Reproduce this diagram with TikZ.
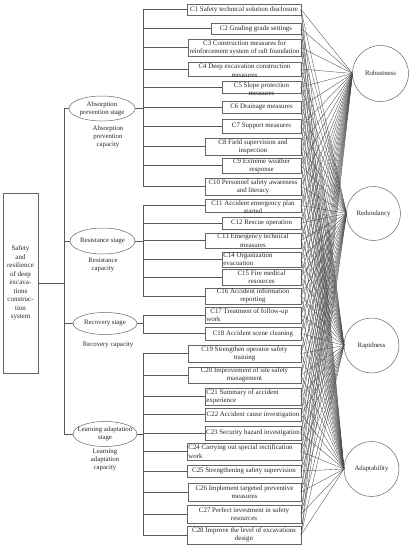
\documentclass[tikz,border=0pt]{standalone}
\usepackage{fontspec}
\setmainfont{Liberation Serif}
\usetikzlibrary{shapes.geometric}
\tikzset{
  cbox/.style={draw=black!60, line width=0.5pt, rectangle, inner sep=0pt, outer sep=0pt},
  ctext/.style={font=\fontsize{6.9}{8.3}\selectfont, inner sep=0pt, align=center, text=black!85},
  stage/.style={draw=black!60, line width=0.5pt, ellipse, inner sep=0pt, outer sep=0pt},
  stext/.style={font=\fontsize{6.8}{8.2}\selectfont, inner sep=0pt, align=center, text=black!85},
  prop/.style={draw=black!60, line width=0.5pt, circle, inner sep=0pt, outer sep=0pt},
  ptext/.style={font=\fontsize{6.8}{8}\selectfont, inner sep=0pt, text=black!85},
  tree/.style={draw=black!65, line width=0.5pt},
  link/.style={draw=black!70, line width=0.35pt},
}
\newcommand{\cbx}[5]{%
  \node[cbox, minimum width={301-#2}, minimum height={#4-#3}] (#1) at ({(301+#2)/2},{(#3+#4)/2}) {};
  \node[ctext] (#1t) at (#1.center) {#5};
}
\newcommand{\cbxd}[5]{%
  \node[cbox, minimum width={301-#2}, minimum height={#4-#3}] (#1) at ({(301+#2)/2},{(#3+#4)/2}) {};
  \node[ctext] (#1t) at ([yshift=-1.8pt]#1.center) {#5};
}
\newcommand{\cbxl}[5]{%
  \node[cbox, minimum width={301-#2}, minimum height={#4-#3}] (#1) at ({(301+#2)/2},{(#3+#4)/2}) {};
  \node[ctext, align=left, anchor=west] (#1t) at ([xshift=1.2pt]#1.west) {#5};
}
\begin{document}
\begin{tikzpicture}[x=1pt, y=-1pt]
\useasboundingbox (0,0) rectangle (412,550);

% main box
\node[cbox, minimum width=35pt, minimum height=180pt] (main) at (20.5,283) {};
\node[stext, font=\fontsize{7}{8.5}\selectfont] (maint) at (main.center) {Safety\\and\\resilience\\of deep\\excava-\\tions\\construc-\\tion\\system};

% stages
\node[stage, minimum width=66pt, minimum height=25pt] (A) at (102,108.5) {};
\node[stext] (At) at (A.center) {Absorption\\prevention stage};
\node[stage, minimum width=65pt, minimum height=26pt] (R) at (102.5,241) {};
\node[stext] (Rt) at (R.center) {Resistance stage};
\node[stage, minimum width=64pt, minimum height=22pt] (Rec) at (105,323.5) {};
\node[stext] (Rect) at (Rec.center) {Recovery stage};
\node[stage, minimum width=64pt, minimum height=25pt] (L) at (105,434) {};
\node[stext] (Lt) at (L.center) {Learning adaptation\\stage};

% capacity labels
\node[stext] (Acap) at (108,137) {Absorption\\prevention\\capacity};
\node[stext] (Rcap) at (103,265) {Resistance\\capacity};
\node[stext] (Reccap) at (108,345) {Recovery capacity};
\node[stext] (Lcap) at (105,460) {Learning\\adaptation\\capacity};

% indicator boxes
\cbx{C1}{187}{4}{15}{C1 Safety technical solution disclosure}
\cbx{C2}{211}{23}{34}{C2 Grading grade settings}
\cbx{C3}{188}{39}{56}{C3 Construction measures for\\reinforcement system of raft foundation}
\cbxd{C4}{188}{62}{76}{C4 Deep excavation construction\\measures}
\cbxd{C5}{222}{81}{93}{C5 Slope protection\\measures}
\cbx{C6}{222}{101}{113}{C6 Drainage measures}
\cbx{C7}{222}{119}{133}{C7 Support measures}
\cbx{C8}{205}{138}{155}{C8 Field supervision and\\inspection}
\cbx{C9}{222}{158}{173}{C9 Extreme weather\\response}
\cbx{C10}{205}{178}{195}{C10 Personnel safety awareness\\and literacy}
\cbxd{C11}{205}{199}{212}{C11 Accident emergency plan\\started}
\cbx{C12}{222}{217}{229}{C12 Rescue operation}
\cbx{C13}{205}{233}{248}{C13 Emergency technical\\measures}
\cbxl{C14}{222}{252}{267}{C14 Organization\\evacuation}
\cbx{C15}{222}{269}{285}{C15 Fire medical\\resources}
\cbx{C16}{205}{288}{304}{C16 Accident information\\reporting}
\cbxl{C17}{205}{307}{323}{\hspace*{4pt}C17 Treatment of follow-up\\work}
\cbx{C18}{205}{327}{340}{C18 Accident scene cleaning}
\cbx{C19}{188}{345}{362}{C19 Strengthen operator safety\\training}
\cbx{C20}{188}{367}{383}{C20 Improvement of site safety\\management}
\cbxl{C21}{205}{388}{405}{C21 Summary of accident\\experience}
\cbx{C22}{205}{408}{421}{C22 Accident cause investigation}
\cbx{C23}{205}{426}{440}{C23 Security hazard investigation}
\cbxl{C24}{187}{443}{460}{C24 Carrying out special rectification\\work}
\cbx{C25}{187}{465}{477}{C25 Strengthening safety supervision}
\cbx{C26}{188}{483}{501}{C26 Implement targeted preventive\\measures}
\cbx{C27}{187}{505}{523}{C27 Perfect investment in safety\\resources}
\cbx{C28}{187}{526}{544}{C28 Improve the level of excavations\\design}

% resilience properties
\node[prop, minimum size=56pt] (Rob) at (380.5,73.5) {};
\node[ptext] (Robt) at (Rob.center) {Robustness};
\node[prop, minimum size=54pt] (Red) at (373.5,213.5) {};
\node[ptext] (Redt) at (Red.center) {Redundancy};
\node[prop, minimum size=55pt] (Rap) at (371.5,345.5) {};
\node[ptext] (Rapt) at (Rap.center) {Rapidness};
\node[prop, minimum size=55pt] (Ada) at (371.5,469) {};
\node[ptext] (Adat) at (Ada.center) {Adaptability};

% tree connectors
\coordinate (j0) at (64,283);
\draw[tree] (main.east) -- (j0);
\foreach \s in {A,R,Rec,L} \draw[tree] (\s.west) -| (j0);

\coordinate (jA) at (143,108.5);
\draw[tree] (A.east) -- (jA);
\foreach \c in {1,...,10} \draw[tree] (C\c.west) -| (jA);

\coordinate (jR) at (143,241);
\draw[tree] (R.east) -- (jR);
\foreach \c in {11,...,16} \draw[tree] (C\c.west) -| (jR);

\coordinate (jRec) at (143,323.5);
\draw[tree] (Rec.east) -- (jRec);
\foreach \c in {17,18} \draw[tree] (C\c.west) -| (jRec);

\coordinate (jL) at (143,434);
\draw[tree] (L.east) -- (jL);
\foreach \c in {19,...,28} \draw[tree] (C\c.west) -| (jL);

% links to resilience properties
\foreach \c in {1,...,28}
  \foreach \p in {Rob,Red,Rap,Ada}
    \draw[link] (C\c.east) -- (\p.west);
\end{tikzpicture}
\end{document}
